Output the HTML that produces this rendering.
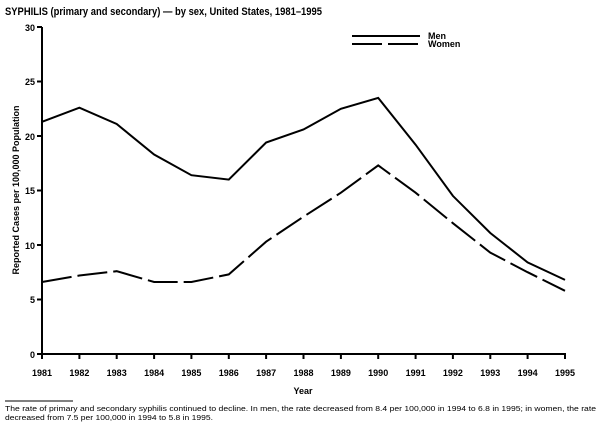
<!DOCTYPE html>
<html><head><style>
body{margin:0;background:#fff;width:601px;height:428px;overflow:hidden;font-family:"Liberation Sans",sans-serif}
</style></head><body>
<svg width="601" height="428" xmlns="http://www.w3.org/2000/svg" font-family="Liberation Sans, sans-serif">
<text x="5" y="15" font-size="11" font-weight="bold" textLength="317" lengthAdjust="spacingAndGlyphs">SYPHILIS (primary and secondary) — by sex, United States, 1981–1995</text>
<g stroke="#000" stroke-width="2" fill="none">
<line x1="42" y1="27" x2="42" y2="355"/>
<line x1="41" y1="354" x2="566" y2="354"/>
</g>
<g stroke="#000" stroke-width="2">
<line x1="37" y1="27" x2="42" y2="27"/><line x1="37" y1="81.5" x2="42" y2="81.5"/><line x1="37" y1="136" x2="42" y2="136"/><line x1="37" y1="190.5" x2="42" y2="190.5"/><line x1="37" y1="245" x2="42" y2="245"/><line x1="37" y1="299.5" x2="42" y2="299.5"/><line x1="37" y1="354" x2="42" y2="354"/>
</g>
<g font-size="9" font-weight="bold" text-anchor="end">
<text x="35" y="31">30</text><text x="35" y="85">25</text><text x="35" y="140">20</text><text x="35" y="194">15</text><text x="35" y="249">10</text><text x="35" y="303">5</text><text x="35" y="358">0</text>
</g>
<g stroke="#000" stroke-width="2">
<line x1="42" y1="354" x2="42" y2="359"/><line x1="79.4" y1="354" x2="79.4" y2="359"/><line x1="116.7" y1="354" x2="116.7" y2="359"/><line x1="154.1" y1="354" x2="154.1" y2="359"/><line x1="191.4" y1="354" x2="191.4" y2="359"/><line x1="228.8" y1="354" x2="228.8" y2="359"/><line x1="266.1" y1="354" x2="266.1" y2="359"/><line x1="303.5" y1="354" x2="303.5" y2="359"/><line x1="340.9" y1="354" x2="340.9" y2="359"/><line x1="378.2" y1="354" x2="378.2" y2="359"/><line x1="415.6" y1="354" x2="415.6" y2="359"/><line x1="452.9" y1="354" x2="452.9" y2="359"/><line x1="490.3" y1="354" x2="490.3" y2="359"/><line x1="527.6" y1="354" x2="527.6" y2="359"/><line x1="565" y1="354" x2="565" y2="359"/>
</g>
<g font-size="9" font-weight="bold" text-anchor="middle">
<text x="42" y="376">1981</text><text x="79.4" y="376">1982</text><text x="116.7" y="376">1983</text><text x="154.1" y="376">1984</text><text x="191.4" y="376">1985</text><text x="228.8" y="376">1986</text><text x="266.1" y="376">1987</text><text x="303.5" y="376">1988</text><text x="340.9" y="376">1989</text><text x="378.2" y="376">1990</text><text x="415.6" y="376">1991</text><text x="452.9" y="376">1992</text><text x="490.3" y="376">1993</text><text x="527.6" y="376">1994</text><text x="565" y="376">1995</text>
<text x="303" y="394">Year</text>
</g>
<text transform="translate(19,190) rotate(-90)" font-size="9" font-weight="bold" text-anchor="middle">Reported Cases per 100,000 Population</text>
<polyline fill="none" stroke="#000" stroke-width="2" points="42,121.8 79.4,107.7 116.7,124 154.1,154.5 191.4,175.2 228.8,179.6 266.1,142.5 303.5,129.5 340.9,108.8 378.2,97.9 415.6,144.7 452.9,195.9 490.3,233 527.6,262.4 565,279.9"/>
<polyline fill="none" stroke="#000" stroke-width="2" stroke-dasharray="30,6" points="42,282 79.4,275.5 116.7,271.2 154.1,282 191.4,282 228.8,274.4 266.1,241.7 303.5,216.7 340.9,192.7 378.2,165.4 415.6,192.7 452.9,223.2 490.3,252.6 527.6,272.2 565,290.8"/>
<line x1="352" y1="36" x2="420" y2="36" stroke="#000" stroke-width="2"/>
<line x1="352" y1="44" x2="420" y2="44" stroke="#000" stroke-width="2" stroke-dasharray="30,6"/>
<text x="428" y="39" font-size="9" font-weight="bold">Men</text>
<text x="428" y="47" font-size="9" font-weight="bold">Women</text>
<line x1="5" y1="401" x2="73" y2="401" stroke="#000" stroke-width="1"/>
<text x="5" y="411" font-size="7.6" textLength="591" lengthAdjust="spacingAndGlyphs">The rate of primary and secondary syphilis continued to decline. In men, the rate decreased from 8.4 per 100,000 in 1994 to 6.8 in 1995; in women, the rate</text>
<text x="5" y="420" font-size="7.6" textLength="208" lengthAdjust="spacingAndGlyphs">decreased from 7.5 per 100,000 in 1994 to 5.8 in 1995.</text>
</svg>
</body></html>
